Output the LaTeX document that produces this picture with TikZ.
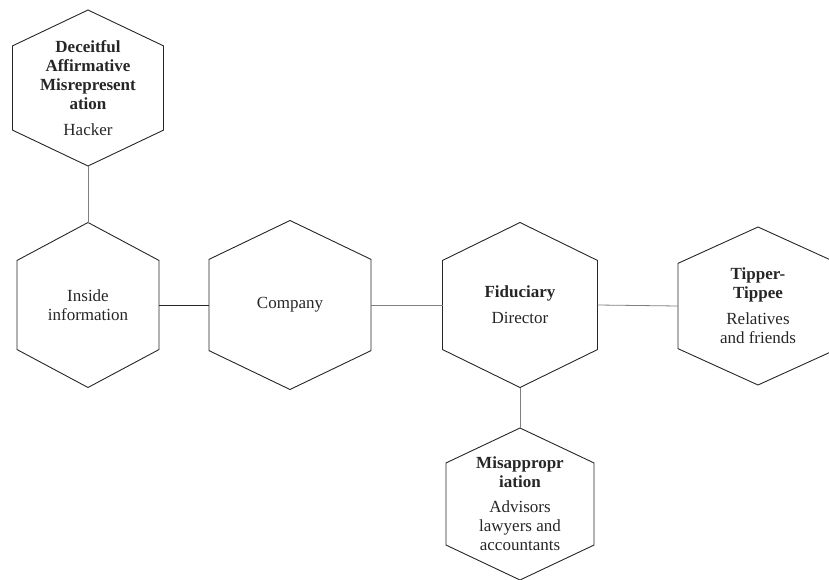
\documentclass[tikz,border=0pt]{standalone}
\usepackage{fontspec}
\setmainfont{Liberation Serif}
\usetikzlibrary{calc}

\begin{document}
\begin{tikzpicture}[x=1pt, y=-1pt,
  hexbox/.style={draw=none, inner sep=0pt, outer sep=0pt, align=center,
    font=\fontsize{17}{19}\selectfont, text=black!85},
  hexline/.style={draw=black!85, line width=0.9pt, line join=miter},
  link/.style={draw=black!50, line width=0.8pt},
  title/.style={}]
\useasboundingbox (0,0) rectangle (829,580);

\node[hexbox, minimum width=151pt, minimum height=156pt] (hack) at (88,88)
  {\textbf{Deceitful}\\\textbf{Affirmative}\\\textbf{Misrepresent}\\\textbf{ation}\\[7pt]Hacker};
\node[hexbox, minimum width=142pt, minimum height=165pt] (info) at (88,305)
  {Inside\\information};
\node[hexbox, minimum width=162pt, minimum height=169pt] (comp) at (290,305)
  {Company};
\node[hexbox, minimum width=155pt, minimum height=165pt] (fid) at (520,305)
  {\textbf{Fiduciary}\\[7pt]Director};
\node[hexbox, minimum width=160pt, minimum height=158pt] (tip) at (758,306)
  {\textbf{Tipper-}\\\textbf{Tippee}\\[7pt]Relatives\\and friends};
\node[hexbox, minimum width=148pt, minimum height=152pt] (mis) at (520,504)
  {\textbf{Misappropr}\\\textbf{iation}\\[6pt]Advisors\\lawyers and\\accountants};

% hexagon outlines
\foreach \n in {hack,info,comp,fid,tip,mis}
  \draw[hexline] (\n.north) -- ($(\n.north east)!.23!(\n.south east)$)
    -- ($(\n.north east)!.77!(\n.south east)$) -- (\n.south)
    -- ($(\n.north west)!.77!(\n.south west)$)
    -- ($(\n.north west)!.23!(\n.south west)$) -- cycle;

\draw[link] (hack.south) -- (info.north);
\draw[link, draw=black!85] (info.east) -- (comp.west);
\draw[link] (comp.east) -- (fid.west);
\draw[link] (fid.east) -- (tip.west);
\draw[link] (fid.south) -- (mis.north);
\end{tikzpicture}
\end{document}
